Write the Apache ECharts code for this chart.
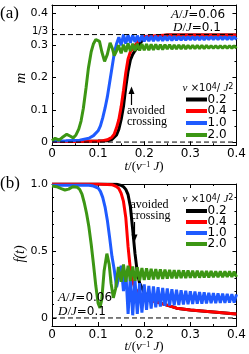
<!DOCTYPE html>
<html><head><meta charset="utf-8">
<script src="https://cdn.jsdelivr.net/npm/echarts@6/dist/echarts.min.js"></script>
<style>html,body{margin:0;padding:0;background:#fff}#c{width:249px;height:354px}</style>
</head><body><div id="c"></div>
<script>
// ---------- data ----------
const speeds = ['0.2', '0.4', '1.0', '2.0'];
const colors = ['#000000', '#ff0000', '#1f5bff', '#3c9614'];
const xTickLabels = ['0', '0.1', '0.2', '0.3', '0.4'];
const yTicksA = [0, 0.1, 0.2, 0.3, 1 / 3, 0.4];
const yLabelsA = ['0', '0.1', '0.2', '0.3', '1/3', '0.4'];
const yMajorA = [0, 0.1, 0.2, 0.3, 0.4];
const yMinorA = [0.05, 0.15, 0.25, 0.35];
const yTicksB = [0, 0.5, 1.0];
const yLabelsB = ['0', '0.5', '1.0'];
const yMinorB = [0.1, 0.2, 0.3, 0.4, 0.6, 0.7, 0.8, 0.9];
const refA = [0, 1 / 3];
const refB = [0];

// shared time grid for the fast-oscillating tails
const tTail = [0.150,0.155,0.160,0.165,0.170,0.175,0.180,0.185,0.190,0.195,
  0.200,0.205,0.210,0.215,0.220,0.225,0.230,0.235,0.240,0.245,
  0.250,0.255,0.260,0.265,0.270,0.275,0.280,0.285,0.290,0.295,
  0.300,0.305,0.310,0.315,0.320,0.325,0.330,0.335,0.340,0.345,
  0.350,0.355,0.360,0.365,0.370,0.375,0.380,0.385,0.390,0.395,
  0.400];

// panel (a): m(t)
const tBlackA = [0, 0.05, 0.1, 0.12, 0.13, 0.14, 0.145, 0.15, 0.155, 0.16, 0.165, 0.17, 0.175, 0.18, 0.185, 0.19, 0.2, 0.25, 0.3, 0.35, 0.4];
const mBlack = [0.002, 0.002, 0.003, 0.004, 0.008, 0.022, 0.04, 0.07, 0.11, 0.17, 0.22, 0.255, 0.272, 0.283, 0.292, 0.305, 0.322, 0.332, 0.332, 0.332, 0.332];
const tRedA = [0, 0.05, 0.1, 0.11, 0.12, 0.13, 0.135, 0.14, 0.145, 0.15, 0.155, 0.16, 0.165, 0.17, 0.175, 0.18, 0.19, 0.2, 0.25, 0.3, 0.35, 0.4];
const mRed = [0.002, 0.002, 0.003, 0.004, 0.007, 0.015, 0.025, 0.045, 0.07, 0.11, 0.16, 0.215, 0.258, 0.28, 0.29, 0.3, 0.318, 0.327, 0.332, 0.332, 0.332, 0.332];
const tBlueA = [0, 0.03, 0.06, 0.08, 0.09, 0.1, 0.105, 0.11, 0.115, 0.12, 0.125, 0.13, 0.135, 0.14, 0.145];
const mBlueHead = [0.003, 0.004, 0.006, 0.012, 0.02, 0.035, 0.05, 0.075, 0.105, 0.14, 0.185, 0.23, 0.275, 0.305, 0.325];
const mBlueTail = [0.300,0.333,0.305,0.332,0.308,0.331,0.310,0.330,0.311,0.330,
  0.312,0.329,0.313,0.329,0.313,0.329,0.314,0.328,0.314,0.328,
  0.315,0.328,0.315,0.328,0.316,0.327,0.316,0.327,0.316,0.327,
  0.317,0.327,0.317,0.327,0.317,0.327,0.317,0.327,0.318,0.327,
  0.318,0.327,0.318,0.327,0.318,0.327,0.318,0.327,0.318,0.327,
  0.318];
const tGreenA = [0, 0.007, 0.015, 0.022, 0.032, 0.04, 0.046, 0.052, 0.058, 0.063, 0.068, 0.074, 0.079, 0.085, 0.09, 0.095, 0.099, 0.103, 0.108, 0.114, 0.12, 0.126, 0.131, 0.135, 0.14, 0.144];
const mGreenHead = [0.004, 0.012, 0.006, 0.014, 0.024, 0.018, 0.013, 0.022, 0.04, 0.065, 0.105, 0.17, 0.23, 0.28, 0.305, 0.318, 0.322, 0.312, 0.28, 0.25, 0.272, 0.308, 0.29, 0.268, 0.283, 0.300];
const mGreenTail = [0.275,0.302,0.280,0.306,0.282,0.305,0.283,0.305,0.284,0.304,
  0.285,0.304,0.285,0.303,0.286,0.303,0.287,0.302,0.287,0.302,
  0.288,0.302,0.288,0.301,0.289,0.301,0.289,0.301,0.289,0.300,
  0.290,0.300,0.290,0.300,0.290,0.300,0.290,0.300,0.291,0.299,
  0.291,0.299,0.291,0.299,0.291,0.299,0.291,0.299,0.291,0.299,
  0.291];

// panel (b): f(t)
const tBlackB = [0, 0.1, 0.14, 0.15, 0.155, 0.16, 0.165, 0.17, 0.175, 0.18, 0.185, 0.19, 0.2, 0.22, 0.24, 0.26, 0.27, 0.3, 0.35, 0.4];
const fBlack = [1.0, 1.0, 0.998, 0.99, 0.98, 0.96, 0.92, 0.83, 0.66, 0.48, 0.34, 0.26, 0.19, 0.13, 0.105, 0.085, 0.073, 0.06, 0.045, 0.03];
const tRedB = [0, 0.1, 0.13, 0.14, 0.145, 0.15, 0.155, 0.16, 0.165, 0.17, 0.175, 0.18, 0.19, 0.2, 0.22, 0.24, 0.26, 0.27, 0.3, 0.35, 0.4];
const fRed = [1.0, 1.0, 0.995, 0.98, 0.965, 0.93, 0.87, 0.75, 0.53, 0.36, 0.27, 0.22, 0.18, 0.155, 0.125, 0.105, 0.085, 0.073, 0.06, 0.045, 0.03];
const tBlueB = [0, 0.05, 0.08, 0.09, 0.1, 0.105, 0.11, 0.115, 0.12, 0.125, 0.13, 0.135, 0.14];
const fBlueHead = [0.99, 0.99, 0.99, 0.985, 0.97, 0.945, 0.9, 0.83, 0.73, 0.6, 0.46, 0.36, 0.23];
const fBlueTail = [0.39,0.20,0.35,0.03,0.31,0.02,0.28,0.03,0.26,0.04,
  0.25,0.06,0.24,0.07,0.235,0.08,0.23,0.085,0.225,0.09,
  0.22,0.093,0.215,0.095,0.21,0.097,0.207,0.10,0.204,0.102,
  0.20,0.104,0.197,0.106,0.194,0.107,0.191,0.108,0.188,0.11,
  0.186,0.111,0.184,0.112,0.182,0.113,0.18,0.114,0.178,0.115,
  0.176];
const tGreenB = [0, 0.01, 0.02, 0.028, 0.036, 0.045, 0.055, 0.06, 0.065, 0.07, 0.075, 0.08, 0.085, 0.09, 0.095, 0.1, 0.104, 0.108, 0.113, 0.119, 0.124, 0.128, 0.133, 0.138, 0.144];
const fGreenHead = [0.985, 0.98, 0.965, 0.955, 0.962, 0.98, 0.975, 0.96, 0.925, 0.86, 0.78, 0.68, 0.55, 0.4, 0.24, 0.11, 0.075, 0.14, 0.35, 0.48, 0.4, 0.26, 0.15, 0.22, 0.38];
const fGreenTail = [0.27,0.40,0.27,0.39,0.275,0.385,0.278,0.378,0.28,0.372,
  0.283,0.37,0.286,0.367,0.288,0.365,0.29,0.362,0.292,0.36,
  0.294,0.358,0.295,0.357,0.296,0.356,0.297,0.355,0.298,0.354,
  0.299,0.353,0.30,0.352,0.301,0.351,0.302,0.35,0.303,0.35,
  0.304,0.349,0.305,0.349,0.305,0.348,0.306,0.348,0.306,0.347,
  0.307];

// ---------- build ----------
function pts(t, v) { return t.map((x, i) => [x, v[i]]); }
const SANS = 'DejaVu Sans', SERIF = 'Liberation Serif';

const curvesA = [
  pts(tBlackA, mBlack), pts(tRedA, mRed),
  pts(tBlueA, mBlueHead).concat(pts(tTail, mBlueTail)),
  pts(tGreenA, mGreenHead).concat(pts(tTail, mGreenTail))
];
const curvesB = [
  pts(tBlackB, fBlack), pts(tRedB, fRed),
  pts(tBlueB, fBlueHead).concat(pts(tTail, fBlueTail)),
  pts(tGreenB, fGreenHead).concat(pts(tTail, fGreenTail))
];

const blk = { color: '#000', width: 1 };
function xAxes(grid) {
  const base = {
    type: 'value', gridIndex: grid, min: 0, max: 0.4, interval: 0.1,
    axisLine: { show: true, onZero: false, lineStyle: blk },
    axisTick: { show: true, inside: true, length: 4, lineStyle: blk },
    minorTick: { show: true, splitNumber: 2, length: 2, lineStyle: blk },
    splitLine: { show: false }, minorSplitLine: { show: false }
  };
  return [
    Object.assign({}, base, { position: 'bottom',
      axisLabel: { show: true, margin: 3, color: '#000', fontFamily: SANS, fontSize: 12,
        formatter: v => xTickLabels[Math.round(v * 10)] } }),
    Object.assign({}, base, { position: 'top', axisLabel: { show: false } })
  ];
}
function yAxes(grid, min, max, labelVals, labels, major, minor) {
  const base = { type: 'value', gridIndex: grid, min: min, max: max,
    splitLine: { show: false } };
  return [
    Object.assign({}, base, { position: 'left',
      axisLine: { show: true, onZero: false, lineStyle: blk },
      axisTick: { show: true, inside: true, length: 4, lineStyle: blk, customValues: major },
      axisLabel: { show: true, margin: 4, color: '#000', fontFamily: SANS, fontSize: 11,
        customValues: labelVals,
        formatter: v => { const i = labelVals.findIndex(a => Math.abs(a - v) < 1e-6);
          const s = labels[i]; return s === '1/3' ? '{f|1/3}' : s; },
        rich: { f: { fontFamily: SANS, fontSize: 10, color: '#000', padding: [0, 0, 6, 0] } } } }),
    Object.assign({}, base, { position: 'left', axisLine: { show: false, onZero: false },
      axisTick: { show: true, inside: true, length: 2, lineStyle: blk, customValues: minor },
      axisLabel: { show: false } }),
    Object.assign({}, base, { position: 'right', axisLine: { show: true, onZero: false, lineStyle: blk },
      axisTick: { show: true, inside: true, length: 4, lineStyle: blk, customValues: major },
      axisLabel: { show: false } }),
    Object.assign({}, base, { position: 'right', axisLine: { show: false, onZero: false },
      axisTick: { show: true, inside: true, length: 2, lineStyle: blk, customValues: minor },
      axisLabel: { show: false } })
  ];
}

const series = [];
function addPanel(curves, xi, yi, refs) {
  curves.forEach((d, k) => series.push({
    type: 'line', name: speeds[k], xAxisIndex: xi, yAxisIndex: yi, data: d,
    showSymbol: false, symbol: 'none', lineStyle: { color: colors[k], width: 3 },
    itemStyle: { color: colors[k] }, z: 2 + k, silent: true
  }));
  refs.forEach(r => series.push({
    type: 'line', xAxisIndex: xi, yAxisIndex: yi, data: [[0, r], [0.4, r]],
    showSymbol: false, symbol: 'none', lineStyle: { color: '#000', width: 1, type: [5, 3] },
    z: 10, silent: true
  }));
}
addPanel(curvesA, 0, 0, refA);
addPanel(curvesB, 2, 4, refB);

// ---------- text / legend graphics ----------
const richMath = {
  i: { fontFamily: SERIF, fontStyle: 'italic', fontSize: 13, fill: '#000' },
  n: { fontFamily: SANS, fontSize: 12, fill: '#000' },
  r: { fontFamily: SERIF, fontSize: 13, fill: '#000' },
  s: { fontFamily: SERIF, fontSize: 8, fill: '#000', verticalAlign: 'top' },
  ss: { fontFamily: SANS, fontSize: 8, fill: '#000', verticalAlign: 'top' },
  li: { fontFamily: SERIF, fontStyle: 'italic', fontSize: 11, fill: '#000' },
  ln: { fontFamily: SANS, fontSize: 10, fill: '#000' }
};
function txt(x, y, text, extra) {
  return Object.assign({ type: 'text', x: x, y: y, z: 100,
    style: Object.assign({ text: text, rich: richMath, fill: '#000',
      verticalAlign: 'middle', align: 'left' }, extra || {}) });
}
const graphics = [];
graphics.push(txt(0, 14, '(a)', { font: '17px "Liberation Serif"' }));
graphics.push(txt(0, 184, '(b)', { font: '17px "Liberation Serif"' }));
graphics.push({ type: 'text', x: 21.5, y: 78, rotation: Math.PI / 2, z: 100,
  style: { text: 'm', font: 'italic 15px "Liberation Serif"', fill: '#000', align: 'center', verticalAlign: 'middle' } });
graphics.push({ type: 'text', x: 20, y: 254, rotation: Math.PI / 2, z: 100,
  style: { text: 'f(t)', font: 'italic 14px "Liberation Serif"', fill: '#000', align: 'center', verticalAlign: 'middle' } });
const xName = '{i|t}{r|/(}{i|v}{s|−1}{i| J}{r|)}';
graphics.push(txt(144, 167, xName, { align: 'center' }));
graphics.push(txt(144, 347, xName, { align: 'center' }));
graphics.push(txt(198, 15, '{i|A}{r|/}{i|J}{n|=0.06}', { align: 'center' }));
graphics.push(txt(197, 27.5, '{i|D}{r|/}{i|J}{n|=0.1}', { align: 'center' }));
graphics.push(txt(58, 297.5, '{i|A}{r|/}{i|J}{n|=0.06}'));
graphics.push(txt(58, 311.5, '{i|D}{r|/}{i|J}{n|=0.1}'));
// avoided crossing labels + arrows
const acFont = '12px "Liberation Serif"';
graphics.push(txt(127, 110.5, 'avoided', { font: acFont }));
graphics.push(txt(127, 122, 'crossing', { font: acFont }));
graphics.push(txt(130.5, 205, 'avoided', { font: acFont }));
graphics.push(txt(130.5, 215.5, 'crossing', { font: acFont }));
graphics.push({ type: 'line', z: 100, shape: { x1: 131.5, y1: 105, x2: 131.5, y2: 92 }, style: { stroke: '#000', lineWidth: 1.2 } });
graphics.push({ type: 'polygon', z: 100, shape: { points: [[128.5, 94], [134.5, 94], [131.5, 86.5]] }, style: { fill: '#000' } });
graphics.push({ type: 'line', z: 100, shape: { x1: 134.5, y1: 222, x2: 134.5, y2: 236 }, style: { stroke: '#000', lineWidth: 1.2 } });
graphics.push({ type: 'polygon', z: 100, shape: { points: [[131.5, 234.5], [137.5, 234.5], [134.5, 242]] }, style: { fill: '#000' } });
// legends
const legendTitle = '{li|v}{ln| ×10}{ss|4}{ln|/ }{li|J}{ss|2}';
function legend(titleY, ys) {
  graphics.push(txt(208, titleY, legendTitle, { align: 'center' }));
  speeds.forEach((s, k) => {
    graphics.push({ type: 'rect', z: 100, shape: { x: 186, y: ys[k] - 2, width: 21, height: 4 }, style: { fill: colors[k] } });
    graphics.push(txt(207.5, ys[k], s, { font: '12px "DejaVu Sans"' }));
  });
}
legend(88, [99.5, 111, 123, 135]);
legend(199.5, [211, 222, 233, 244]);

const chart = echarts.init(document.getElementById('c'), null, { renderer: 'canvas' });
chart.setOption({
  animation: false,
  backgroundColor: '#fff',
  grid: [
    { left: 52, top: 5, width: 185, height: 140.3, containLabel: false },
    { left: 52, top: 184, width: 185, height: 142, containLabel: false }
  ],
  xAxis: xAxes(0).concat(xAxes(1)),
  yAxis: yAxes(0, -0.01, 0.425, yTicksA, yLabelsA, yMajorA, yMinorA)
    .concat(yAxes(1, -0.06, 1.0, yTicksB, yLabelsB, yTicksB, yMinorB)),
  series: series,
  graphic: graphics
});
</script>
</body></html>
